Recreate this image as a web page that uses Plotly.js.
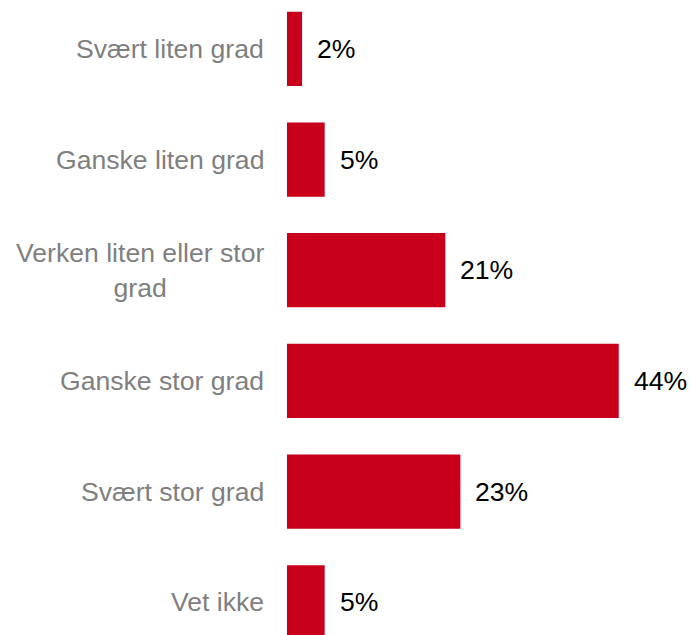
<!DOCTYPE html>
<html>
<head>
<meta charset="utf-8">
<script src="https://cdn.plot.ly/plotly-3.0.1.min.js"></script>
<style>html,body{margin:0;padding:0;background:#fff;}#chart{width:690px;height:635px;}</style>
</head>
<body>
<div id="chart"></div>
<script>
var categories = ["Svært liten grad", "Ganske liten grad", "Verken liten eller stor<br>grad", "Ganske stor grad", "Svært stor grad", "Vet ikke"];
var values = [2, 5, 21, 44, 23, 5];
var valueLabels = ["2%", "5%", "21%", "44%", "23%", "5%"];

var FONT = "Liberation Sans, Arial, sans-serif";
var annotations = [];
categories.forEach(function(c, i) {
  annotations.push({
    xref: "paper", yref: "y", x: 0, y: c,
    xanchor: "right", yanchor: "middle", xshift: -21,
    text: c, showarrow: false, align: "center",
    font: {family: FONT, size: 26.6, color: "#7f7f7f"}
  });
  annotations.push({
    xref: "x", yref: "y", x: values[i], y: c,
    xanchor: "left", yanchor: "middle", xshift: 13,
    text: valueLabels[i], showarrow: false,
    font: {family: FONT, size: 26.6, color: "#000000"}
  });
});

var trace = {
  type: "bar", orientation: "h",
  x: values, y: categories,
  width: 0.671,
  marker: {color: "#c8001b"},
  hoverinfo: "none"
};
var layout = {
  width: 690, height: 635,
  margin: {l: 287, r: 0, t: 0, b: 0},
  paper_bgcolor: "#ffffff", plot_bgcolor: "#ffffff",
  showlegend: false,
  xaxis: {range: [0, 53.45], visible: false, fixedrange: true},
  yaxis: {type: "category", range: [5.295, -0.441], showticklabels: false, showgrid: false, zeroline: false, showline: false, ticks: "", fixedrange: true},
  annotations: annotations
};
Plotly.newPlot("chart", [trace], layout, {displayModeBar: false, staticPlot: true});
</script>
</body>
</html>
